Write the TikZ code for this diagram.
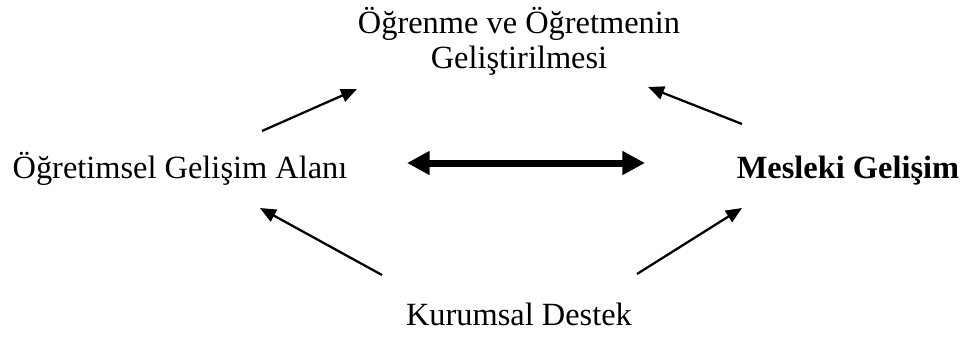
\documentclass[tikz,border=0pt]{standalone}
\usepackage{fontspec}
\setmainfont{Liberation Serif}
\usetikzlibrary{arrows.meta}

\tikzset{
  label/.style={inner sep=0pt,anchor=base,align=center},
  ok/.style={-{Triangle[length=12pt,width=10pt]},line width=1.7pt},
  kalin/.style={{Triangle[length=17pt,width=17pt]}-{Triangle[length=17pt,width=17pt]},line width=5.25pt}
}

\begin{document}
\begin{tikzpicture}[x=0.75pt,y=-0.75pt,font=\fontsize{24.3}{26.25}\selectfont]
                \useasboundingbox (0,0) rectangle (965,336);
                \node[label](hedef)at(519, 68){Öğrenme ve Öğretmenin\\Geliştirilmesi};
                \node[label](alan)at(180, 178){Öğretimsel Gelişim Alanı};
                \node[label,font=\fontsize{24.3}{26.25}\selectfont\bfseries](mesleki)at(848, 178){Mesleki Gelişim};
                \node[label](destek)at(519, 325){Kurumsal Destek};

                \coordinate(a1)at(262, 131);
                \coordinate(a2)at(357, 89);
                \coordinate(b1)at(742, 124);
                \coordinate(b2)at(648, 87);
                \coordinate(c1)at(382, 275);
                \coordinate(c2)at(260, 208);
                \coordinate(d1)at(637, 274);
                \coordinate(d2)at(742, 208);
                \coordinate(e1)at(407, 163);
                \coordinate(e2)at(645, 163);

                \path[ok] (a1) edge (a2)
                (b1) edge (b2)
                (c1) edge (c2)
                (d1) edge (d2);
                \path[kalin] (e1) edge (e2);
            \end{tikzpicture}
\end{document}
